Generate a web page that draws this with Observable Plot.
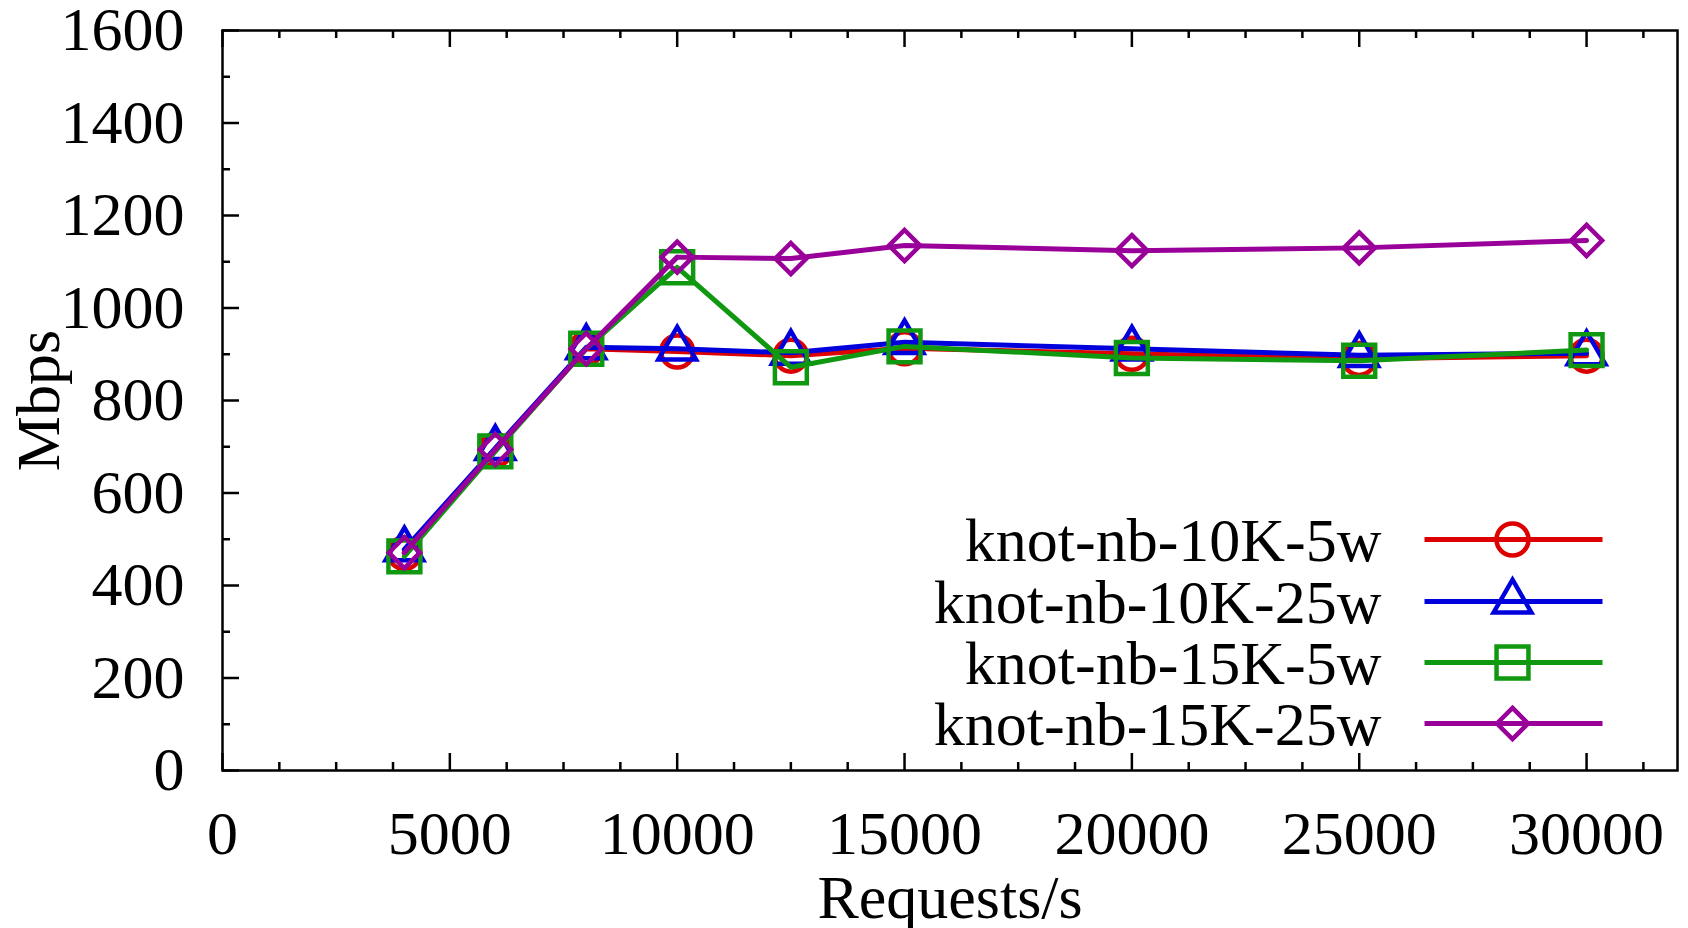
<!DOCTYPE html>
<html>
<head>
<meta charset="utf-8">
<script src="https://cdn.jsdelivr.net/npm/d3@7"></script>
<script src="https://cdn.jsdelivr.net/npm/@observablehq/plot@0.6"></script>
<style>
  html, body { margin: 0; padding: 0; background: #ffffff; }
  #chart { width: 1688px; height: 928px; }
</style>
</head>
<body>
<div id="chart"></div>
<script>
// ---- Data ----
const requests = [4000, 6000, 8000, 10000, 12500, 15000, 20000, 25000, 30000];
const seriesNames = ["knot-nb-10K-5w", "knot-nb-10K-25w", "knot-nb-15K-5w", "knot-nb-15K-25w"];
const mbps10K5w  = [470, 693, 912, 906, 897, 913, 901, 890, 897];
const mbps10K25w = [478, 697, 915, 912, 903, 926, 912, 898, 902];
const mbps15K5w  = [463, 690, 912, 1088, 872, 917, 892, 886, 909];
const mbps15K25w = [471, 694, 912, 1110, 1107, 1135, 1124, 1130, 1146];
const seriesColors  = ["#dd0000", "#0000dd", "#109910", "#990099"];
const seriesSymbols = ["circle", "triangle", "square", "diamond2"];
const seriesRadius  = [16, 14, 18, 14];

const xTicks = [0, 5000, 10000, 15000, 20000, 25000, 30000];
const xMinorTicks = d3.range(0, 32001, 1250).filter(d => d % 5000 !== 0);
const yTicks = [0, 200, 400, 600, 800, 1000, 1200, 1400, 1600];
const yMinorTicks = d3.range(100, 1600, 200);

const xLabel = "Requests/s";
const yLabel = "Mbps";

// ---- Layout ----
const W = 1688, H = 928;
const mL = 222, mR = 11, mT = 30, mB = 158;
const innerW = W - mL - mR, innerH = H - mT - mB;
const FONT = "'Liberation Serif', 'Times New Roman', serif";
const FS = 62;

const allSeries = [mbps10K5w, mbps10K25w, mbps15K5w, mbps15K25w];
const table = [];
allSeries.forEach((vals, s) => {
  vals.forEach((v, i) => table.push({series: seriesNames[s], x: requests[i], y: v}));
});

const marks = [];

// inward ticks (bottom, top, left)
const tickStyle = {stroke: "black", strokeWidth: 2.5};
marks.push(Plot.tickX(xTicks, {x: d => d, insetTop: innerH - 17, ...tickStyle}));
marks.push(Plot.tickX(xTicks, {x: d => d, insetBottom: innerH - 17, ...tickStyle}));
marks.push(Plot.tickX(xMinorTicks, {x: d => d, insetTop: innerH - 8, ...tickStyle}));
marks.push(Plot.tickX(xMinorTicks, {x: d => d, insetBottom: innerH - 8, ...tickStyle}));
marks.push(Plot.tickY(yTicks, {y: d => d, insetRight: innerW - 17, ...tickStyle}));
marks.push(Plot.tickY(yMinorTicks, {y: d => d, insetRight: innerW - 8, ...tickStyle}));

// axes labels
marks.push(Plot.axisX(xTicks, {tickSize: 0, tickPadding: 39, fontSize: FS, fontFamily: FONT, tickFormat: d3.format("d"), label: null}));
marks.push(Plot.axisY(yTicks, {tickSize: 0, tickPadding: 38, fontSize: FS, fontFamily: FONT, tickFormat: d3.format("d"), label: null}));
marks.push(Plot.text([xLabel], {text: d => d, frameAnchor: "bottom", dy: 128, textAnchor: "middle", lineAnchor: "middle", fontSize: FS, fontFamily: FONT, fill: "black"}));
marks.push(Plot.text([yLabel], {text: d => d, frameAnchor: "left", dx: -183, rotate: -90, textAnchor: "middle", lineAnchor: "middle", fontSize: FS, fontFamily: FONT, fill: "black"}));

// series
seriesNames.forEach((name, s) => {
  const data = table.filter(d => d.series === name);
  marks.push(Plot.line(data, {x: "x", y: "y", stroke: seriesColors[s], strokeWidth: 5}));
  marks.push(Plot.dot(data, {x: "x", y: "y", symbol: () => seriesSymbols[s], r: seriesRadius[s], stroke: seriesColors[s], strokeWidth: 4.5, fill: "none"}));
});

// legend (key inside the plot frame, bottom right)
const rowOffsets = [-231, -169, -108, -47];
seriesNames.forEach((name, s) => {
  const dy = rowOffsets[s];
  marks.push(Plot.text([name], {text: d => d, frameAnchor: "bottom-right", dx: -296, dy: dy + 2, textAnchor: "end", lineAnchor: "middle", fontSize: FS, fontFamily: FONT, fill: "black"}));
  marks.push(Plot.vector([name], {frameAnchor: "bottom-right", dx: -164, dy: dy, length: 178, rotate: 90, anchor: "middle", r: 0, stroke: seriesColors[s], strokeWidth: 5, strokeLinecap: "butt"}));
  marks.push(Plot.dot([name], {frameAnchor: "bottom-right", dx: -165, dy: dy, symbol: () => seriesSymbols[s], r: seriesRadius[s], stroke: seriesColors[s], strokeWidth: 4.5, fill: "none"}));
});

marks.push(Plot.frame({stroke: "black", strokeWidth: 2.5}));

const chart = Plot.plot({
  width: W,
  height: H,
  marginLeft: mL,
  marginRight: mR,
  marginTop: mT,
  marginBottom: mB,
  style: {fontFamily: FONT, fontSize: FS + "px", background: "white", color: "black", overflow: "visible"},
  x: {domain: [0, 32000]},
  y: {domain: [0, 1600]},
  symbol: {type: "identity"},
  marks
});
document.getElementById("chart").appendChild(chart);
</script>
</body>
</html>
